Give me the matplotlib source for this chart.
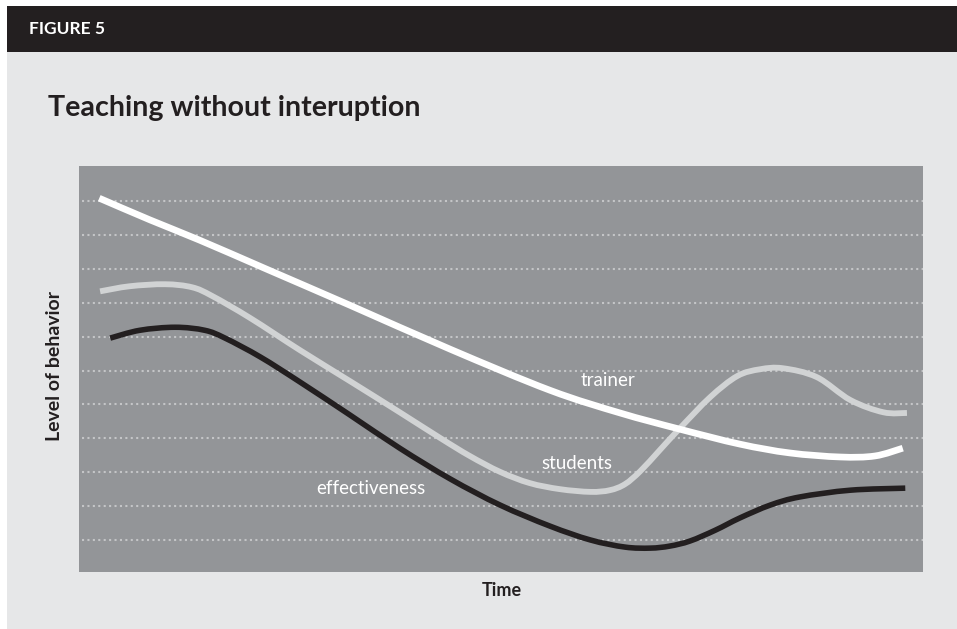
import matplotlib
matplotlib.use("Agg")
import matplotlib.pyplot as plt
import numpy as np
from matplotlib.path import Path
from matplotlib.patches import PathPatch, Rectangle

# ---- data (time 0-100, level 0-12) ----
trainer_x = [2.4, 8.4, 14.3, 22.0, 32.1, 44.0, 55.8, 64.1, 71.2, 78.3, 84.2, 90.2, 94.3, 97.6]
trainer_y = [11.09, 10.45, 9.85, 9.02, 7.93, 6.63, 5.42, 4.75, 4.27, 3.83, 3.57, 3.45, 3.48, 3.71]

students_x = [2.5, 6.0, 10.2, 13.4, 15.8, 20.3, 26.2, 32.1, 38.0, 42.8, 46.3, 49.9, 53.4, 57.0,
              60.6, 62.9, 64.7, 66.5, 68.8, 71.2, 74.8, 78.0, 80.7, 83.4, 87.4, 91.4, 95.3, 98.1]
students_y = [8.34, 8.49, 8.55, 8.46, 8.20, 7.55, 6.60, 5.69, 4.77, 4.01, 3.48, 3.01, 2.68, 2.50,
              2.42, 2.47, 2.65, 3.03, 3.65, 4.30, 5.22, 5.84, 6.04, 6.07, 5.81, 5.13, 4.77, 4.75]

effect_x = [3.7, 7.2, 11.4, 14.9, 17.3, 21.5, 26.2, 32.1, 38.0, 44.0, 49.9, 55.8, 60.6, 64.7,
            67.7, 70.0, 72.4, 75.4, 78.3, 81.9, 85.4, 91.4, 97.9]
effect_y = [6.96, 7.19, 7.28, 7.19, 6.96, 6.40, 5.66, 4.69, 3.71, 2.80, 2.03, 1.41, 1.00, 0.79,
            0.76, 0.82, 0.97, 1.29, 1.65, 2.03, 2.27, 2.47, 2.53]

grid_levels = [1, 2, 3, 4, 5, 6, 7, 8, 9, 10, 11]

title = "Teaching without interuption"
fig_label = "FIGURE 5"
xlabel = "Time"
ylabel = "Level of behavior"

# ---- colours ----
HEADER = "#231f20"
PANEL = "#e6e7e8"
PLOTBG = "#939598"
DOTS = "#c4c5c7"
C_TRAINER = "#ffffff"
C_STUDENTS = "#d1d3d4"
C_EFFECT = "#231f20"

W, H = 957, 629
fig = plt.figure(figsize=(W / 100, H / 100), dpi=100, facecolor="white")

# panel and header
fig.patches.append(Rectangle((7 / W, 0), 1 - 7 / W, (H - 52) / H, transform=fig.transFigure,
                             facecolor=PANEL, edgecolor="none", zorder=-2))
fig.patches.append(Rectangle((7 / W, (H - 52) / H), 1 - 7 / W, 46 / H, transform=fig.transFigure,
                             facecolor=HEADER, edgecolor="none", zorder=-2))
fig.text(29 / W, 1 - 29 / H, fig_label, color="white", fontsize=12.5, fontweight="bold",
         family=["Lato", "DejaVu Sans"], va="center", ha="left")
fig.text(48 / W, 1 - 108 / H, title, color="#231f20", fontsize=20.6, fontweight="bold",
         family=["Lato", "DejaVu Sans"], va="center", ha="left")

ax = fig.add_axes([79 / W, (H - 572) / H, 844 / W, 406 / H])
ax.set_zorder(1)
ax.set_facecolor(PLOTBG)
for s in ax.spines.values():
    s.set_visible(False)
ax.set_xticks([])
ax.set_yticks([])
ax.set_xlim(0, 100)
ax.set_ylim(0.055, 12.04)

for g in grid_levels:
    ax.axhline(g, xmin=0.003, xmax=1, color=DOTS, lw=1.5, linestyle=(0, (1, 1.6)),
               dash_capstyle="butt", zorder=1)


def smooth_path(xs, ys):
    pts = np.column_stack([xs, ys])
    n = len(pts)
    verts = [pts[0]]
    codes = [Path.MOVETO]
    for i in range(n - 1):
        p0 = pts[i - 1] if i > 0 else pts[i]
        p1 = pts[i]
        p2 = pts[i + 1]
        p3 = pts[i + 2] if i + 2 < n else pts[i + 1]
        c1 = p1 + (p2 - p0) / 6.0
        c2 = p2 - (p3 - p1) / 6.0
        verts += [c1, c2, p2]
        codes += [Path.CURVE4] * 3
    return Path(verts, codes)


for xs, ys, c, lw in [(effect_x, effect_y, C_EFFECT, 4.0),
                      (students_x, students_y, C_STUDENTS, 4.2),
                      (trainer_x, trainer_y, C_TRAINER, 4.8)]:
    patch = PathPatch(smooth_path(xs, ys), facecolor="none", edgecolor=c, lw=lw,
                      capstyle="butt", joinstyle="round", zorder=3)
    ax.add_patch(patch)

lab_kw = dict(color="white", fontsize=13.5, fontweight="normal", family=["Lato", "DejaVu Sans"],
              ha="center", va="center", zorder=4)
ax.text(62.7, 5.72, "trainer", **lab_kw)
ax.text(59.0, 3.27, "students", **lab_kw)
ax.text(34.6, 2.53, "effectiveness", **lab_kw)

fig.text(502 / W, 1 - 591 / H, xlabel, color="#231f20", fontsize=13, fontweight="bold",
         family=["Lato", "DejaVu Sans"], ha="center", va="center")
fig.text(55 / W, 1 - 366 / H, ylabel, color="#231f20", fontsize=14, fontweight="bold",
         family=["Lato", "DejaVu Sans"], ha="center", va="center", rotation=90)

fig.savefig("out.png", dpi=100, facecolor="white")
